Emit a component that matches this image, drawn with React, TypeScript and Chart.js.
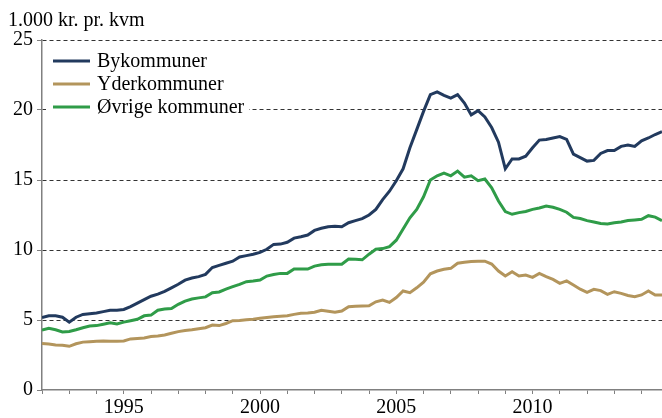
import { useEffect, useRef } from 'react';
import { Chart, registerables } from 'chart.js';

Chart.register(...registerables);

// Quarterly observations, 1992 Q1 – 2014 Q4 (1.000 kr. pr. kvm)
const startYear = 1992;
const quartersPerYear = 4;

const bykommuner = [
  5.17, 5.3, 5.3, 5.2,
  4.85, 5.2, 5.4, 5.45,
  5.5, 5.6, 5.7, 5.7,
  5.75, 5.95, 6.2, 6.45,
  6.7, 6.85, 7.05, 7.3,
  7.55, 7.85, 8.0, 8.1,
  8.26, 8.75, 8.9, 9.05,
  9.2, 9.5, 9.6, 9.7,
  9.83, 10.05, 10.4, 10.42,
  10.55, 10.85, 10.95, 11.07,
  11.4, 11.55, 11.66, 11.7,
  11.66, 11.95, 12.1, 12.24,
  12.5, 12.9, 13.6, 14.2,
  14.95, 15.8, 17.3, 18.6,
  19.9, 21.1, 21.3, 21.05,
  20.85, 21.1, 20.5, 19.65,
  19.95, 19.5, 18.75, 17.7,
  15.8, 16.5, 16.5, 16.7,
  17.3, 17.85, 17.9, 18.0,
  18.1, 17.9, 16.85, 16.6,
  16.35, 16.4, 16.9, 17.1,
  17.1, 17.4, 17.5, 17.4,
  17.8, 18.0, 18.25, 18.45,
];

const yderkommuner = [
  3.33, 3.28, 3.22, 3.2,
  3.12, 3.3, 3.42, 3.45,
  3.48, 3.5, 3.48, 3.48,
  3.5, 3.65, 3.68, 3.72,
  3.82, 3.86, 3.93, 4.05,
  4.17, 4.25, 4.3, 4.38,
  4.45, 4.64, 4.6, 4.75,
  4.95, 4.97, 5.02, 5.06,
  5.12, 5.18, 5.24, 5.27,
  5.31, 5.4, 5.48, 5.5,
  5.55, 5.7, 5.62, 5.55,
  5.64, 5.95, 5.98, 6.0,
  6.02, 6.3, 6.43, 6.26,
  6.6, 7.07, 6.95, 7.3,
  7.7, 8.3, 8.5, 8.62,
  8.69, 9.05, 9.12, 9.17,
  9.2, 9.2, 9.0, 8.5,
  8.14, 8.45, 8.14, 8.21,
  8.05, 8.33, 8.1, 7.9,
  7.62, 7.79, 7.5, 7.2,
  6.98, 7.19, 7.1, 6.83,
  7.02, 6.9, 6.75, 6.67,
  6.79, 7.07, 6.79, 6.79,
];

const oevrige = [
  4.29, 4.4, 4.3, 4.15,
  4.18, 4.3, 4.45, 4.57,
  4.6, 4.7, 4.8, 4.72,
  4.85, 4.95, 5.05, 5.3,
  5.35, 5.7, 5.78, 5.82,
  6.12, 6.35, 6.5, 6.58,
  6.65, 6.95, 7.0, 7.2,
  7.38, 7.55, 7.74, 7.78,
  7.85, 8.14, 8.25, 8.33,
  8.33, 8.64, 8.64, 8.64,
  8.85, 8.95, 8.98, 8.98,
  8.98, 9.36, 9.34, 9.3,
  9.7, 10.05, 10.1, 10.24,
  10.7, 11.5, 12.3, 12.9,
  13.8, 15.0, 15.3, 15.5,
  15.3, 15.64, 15.2, 15.3,
  14.95, 15.07, 14.45, 13.5,
  12.74, 12.55, 12.67, 12.75,
  12.9, 13.0, 13.14, 13.05,
  12.9, 12.7, 12.33, 12.25,
  12.1, 12.0, 11.9, 11.86,
  11.95, 12.0, 12.1, 12.15,
  12.19, 12.45, 12.35, 12.1,
];

const seriesNames = ['Bykommuner', 'Yderkommuner', 'Øvrige kommuner'];
const seriesColors = ['#223a5e', '#b3955c', '#2f9c48'];
const yAxisTitle = '1.000 kr. pr. kvm';
const xLabelYears = [1995, 2000, 2005, 2010];
const yTicks = [0, 5, 10, 15, 20, 25];

const FONT = "'Liberation Serif', 'Times New Roman', serif";

function toPoints(values: number[]) {
  return values.map((v, i) => ({ x: startYear + i / quartersPerYear, y: v }));
}

export default function App() {
  const ref = useRef<HTMLCanvasElement | null>(null);

  useEffect(() => {
    document.body.style.margin = '0';
    const canvas = ref.current;
    if (!canvas) return;

    const overlay = {
      id: 'overlay',
      afterDraw(chart: any) {
        const ctx = chart.ctx;
        ctx.save();
        // y-axis title
        ctx.fillStyle = '#000';
        ctx.font = `20px ${FONT}`;
        ctx.textBaseline = 'alphabetic';
        ctx.textAlign = 'left';
        ctx.fillText(yAxisTitle, 8, 26);

        // legend box
        ctx.fillStyle = '#fff';
        ctx.fillRect(46, 49, 203, 70);
        const rowY = [61, 84, 107];
        seriesNames.forEach((name, i) => {
          ctx.strokeStyle = seriesColors[i];
          ctx.lineWidth = 3;
          ctx.beginPath();
          ctx.moveTo(53, rowY[i]);
          ctx.lineTo(90, rowY[i]);
          ctx.stroke();
          ctx.fillStyle = '#000';
          ctx.textBaseline = 'middle';
          ctx.fillText(name, 97, rowY[i] + 1);
        });
        ctx.restore();
      },
    };

    const chart = new Chart(canvas, {
      type: 'line',
      data: {
        datasets: [bykommuner, yderkommuner, oevrige].map((vals, i) => ({
          label: seriesNames[i],
          data: toPoints(vals),
          borderColor: seriesColors[i],
          backgroundColor: seriesColors[i],
          borderWidth: 3,
          pointRadius: 0,
          tension: 0,
          fill: false,
        })),
      },
      options: {
        responsive: false,
        animation: false,
        events: [],
        layout: { padding: { top: 40, right: 0, bottom: 0, left: 0 } },
        plugins: {
          legend: { display: false },
          tooltip: { enabled: false },
          title: { display: false },
        },
        scales: {
          x: {
            type: 'linear',
            min: startYear,
            max: 2014.75,
            afterFit(scale: any) {
              scale.height = 28;
            },
            grid: {
              drawOnChartArea: false,
              drawTicks: true,
              tickLength: 4,
              tickColor: '#808080',
              tickWidth: 1,
            },
            border: { display: true, color: '#808080', width: 1.5 },
            ticks: {
              stepSize: 1,
              includeBounds: false,
              autoSkip: false,
              maxRotation: 0,
              padding: 2,
              color: '#000',
              font: { family: FONT, size: 20 },
              callback: (v: any) => (xLabelYears.includes(Number(v)) ? String(v) : ''),
            },
          },
          y: {
            min: yTicks[0],
            max: yTicks[yTicks.length - 1],
            afterFit(scale: any) {
              scale.width = 42;
            },
            grid: {
              color: (c: any) => (c.tick && c.tick.value === 0 ? 'rgba(0,0,0,0)' : '#333'),
              lineWidth: 1,
              drawTicks: true,
              tickLength: 5,
              tickColor: '#808080',
              tickBorderDash: [],
            },
            border: { display: true, color: '#808080', width: 1.5, dash: [4, 3] },
            ticks: {
              stepSize: 5,
              padding: 4,
              color: '#000',
              font: { family: FONT, size: 20 },
            },
          },
        },
      },
      plugins: [overlay],
    } as any);

    return () => chart.destroy();
  }, []);

  return (
    <div style={{ position: 'absolute', left: 0, top: 0, width: 662, height: 418 }}>
      <canvas ref={ref} width={662} height={418} />
    </div>
  );
}
